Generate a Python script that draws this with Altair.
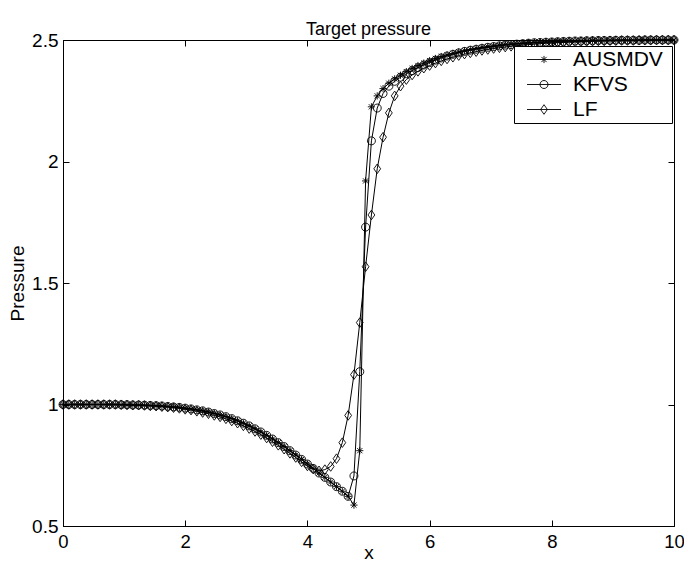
import altair as alt
import pandas as pd

# ---------------- data ----------------
series_names = ["AUSMDV", "KFVS", "LF"]
x_ticks = [0, 2, 4, 6, 8, 10]
y_ticks = [0.5, 1, 1.5, 2, 2.5]

# 106 grid nodes from 0 to 10
x_grid = [round(i * 10 / 105, 4) for i in range(106)]

# upstream part shared by AUSMDV and KFVS (nodes 0..49)
upstream = [
    1.000, 1.000, 1.000, 1.000, 1.000, 1.000, 1.000, 1.000, 1.000, 1.000,
    0.999, 0.999, 0.998, 0.998, 0.997, 0.996, 0.995, 0.994, 0.992, 0.990,
    0.988, 0.985, 0.982, 0.978, 0.974, 0.969, 0.963, 0.957, 0.950, 0.942,
    0.933, 0.923, 0.912, 0.900, 0.887, 0.873, 0.858, 0.843, 0.827, 0.810,
    0.792, 0.774, 0.755, 0.737, 0.718, 0.700, 0.681, 0.662, 0.643, 0.622,
]

# nodes 50..105
ausmdv_tail = [
    0.586, 0.810, 1.920, 2.225, 2.270, 2.300, 2.322, 2.340, 2.355, 2.370,
    2.383, 2.395, 2.405, 2.415, 2.424, 2.432, 2.439, 2.445, 2.451, 2.456,
    2.461, 2.465, 2.469, 2.472, 2.475, 2.478, 2.481, 2.483, 2.485, 2.487,
    2.489, 2.490, 2.491, 2.492, 2.493, 2.494, 2.495, 2.496, 2.496, 2.497,
    2.497, 2.498, 2.498, 2.498, 2.499, 2.499, 2.499, 2.499, 2.499, 2.500,
    2.500, 2.500, 2.500, 2.500, 2.500, 2.500,
]

kfvs_tail = [
    0.706, 1.135, 1.730, 2.085, 2.220, 2.280, 2.310, 2.330, 2.347, 2.361,
    2.374, 2.386, 2.397, 2.407, 2.417, 2.426, 2.434, 2.441, 2.447, 2.453,
    2.458, 2.462, 2.466, 2.470, 2.473, 2.476, 2.479, 2.481, 2.483, 2.485,
    2.487, 2.489, 2.490, 2.491, 2.492, 2.493, 2.494, 2.495, 2.496, 2.496,
    2.497, 2.497, 2.498, 2.498, 2.498, 2.499, 2.499, 2.499, 2.499, 2.499,
    2.500, 2.500, 2.500, 2.500, 2.500, 2.500,
]

lf = [
    1.000, 1.000, 1.000, 1.000, 1.000, 1.000, 1.000, 1.000, 1.000, 1.000,
    0.999, 0.998, 0.997, 0.997, 0.996, 0.994, 0.993, 0.991, 0.989, 0.987,
    0.984, 0.980, 0.977, 0.972, 0.967, 0.962, 0.955, 0.949, 0.941, 0.932,
    0.923, 0.912, 0.901, 0.889, 0.876, 0.862, 0.847, 0.832, 0.816, 0.799,
    0.782, 0.764, 0.747, 0.734, 0.727, 0.732, 0.745, 0.777, 0.843, 0.955,
    1.123, 1.337, 1.567, 1.780, 1.970, 2.100, 2.200, 2.270, 2.310, 2.337,
    2.356, 2.371, 2.384, 2.395, 2.405, 2.414, 2.422, 2.429, 2.436, 2.442,
    2.447, 2.452, 2.457, 2.461, 2.465, 2.468, 2.471, 2.474, 2.477, 2.479,
    2.481, 2.483, 2.485, 2.487, 2.488, 2.489, 2.490, 2.491, 2.492, 2.493,
    2.494, 2.495, 2.496, 2.496, 2.497, 2.497, 2.498, 2.498, 2.498, 2.499,
    2.499, 2.499, 2.500, 2.500, 2.500, 2.500,
]

ausmdv = upstream + ausmdv_tail
kfvs = upstream + kfvs_tail

rows = []
for name, vals in zip(series_names, [ausmdv, kfvs, lf]):
    for xv, yv in zip(x_grid, vals):
        rows.append({"x": xv, "p": yv, "series": name})
df = pd.DataFrame(rows)

# ---------------- styling ----------------
FONT = "Liberation Sans"
W, H = 611, 486

marker_paths = [
    "M-0.9,0L0.9,0M0,-0.9L0,0.9M-0.65,-0.65L0.65,0.65M-0.65,0.65L0.65,-0.65",
    "M1,0A1,1,0,1,1,-1,0A1,1,0,1,1,1,0Z",
    "M0,-1.2L0.85,0L0,1.2L-0.85,0Z",
]
legend_paths = ["M-4.25,0L4.25,0" + p for p in marker_paths]

xs = alt.Scale(domain=[0, 10], nice=False, zero=False)
ys = alt.Scale(domain=[0.5, 2.5], nice=False, zero=False)

tick_common = dict(labels=False, domain=False, ticks=True, tickSize=6,
                   tickColor="black", tickWidth=1, grid=False, title=None)

x_main = alt.Axis(orient="bottom", values=x_ticks, ticks=False, labelPadding=6,
                  labelFlush=False,
                  labelFont=FONT, labelFontSize=18.5, labelColor="black",
                  domain=True, domainColor="black", domainWidth=1, grid=False,
                  title="x", titleFont=FONT, titleFontSize=19,
                  titleFontWeight="normal", titleColor="black",
                  titleY=32, titleBaseline="alphabetic")
y_main = alt.Axis(orient="left", values=y_ticks, ticks=False, labelPadding=5,
                  labelFlush=False, format="~g",
                  labelFont=FONT, labelFontSize=19, labelColor="black",
                  domain=True, domainColor="black", domainWidth=1, grid=False,
                  title="Pressure", titleFont=FONT, titleFontSize=19,
                  titleFontWeight="normal", titleColor="black", titlePadding=4)

x_in_bottom = alt.Axis(orient="top", offset=-H, values=x_ticks, **tick_common)
x_in_top = alt.Axis(orient="bottom", offset=-H, values=x_ticks, **tick_common)
y_in_left = alt.Axis(orient="right", offset=-W, values=y_ticks, **tick_common)
y_in_right = alt.Axis(orient="left", offset=-W, values=y_ticks, **tick_common)

base = alt.Chart(df)

lines = base.mark_line(color="black", strokeWidth=1).encode(
    x=alt.X("x:Q", scale=xs, axis=x_main),
    y=alt.Y("p:Q", scale=ys, axis=y_main),
    detail="series:N",
)

points = base.mark_point(filled=False, color="black", strokeWidth=0.9,
                         size=64, opacity=1).encode(
    x=alt.X("x:Q", scale=xs, axis=x_in_bottom),
    y=alt.Y("p:Q", scale=ys, axis=y_in_left),
    shape=alt.Shape("series:N",
                    scale=alt.Scale(domain=series_names, range=marker_paths),
                    legend=None),
)

legend_layer = base.mark_point(filled=False, color="black", strokeWidth=0.9,
                               size=64, opacity=0).encode(
    x=alt.X("x:Q", scale=xs, axis=x_in_top),
    y=alt.Y("p:Q", scale=ys, axis=y_in_right),
    shape=alt.Shape(
        "series:N",
        scale=alt.Scale(domain=series_names, range=legend_paths),
        legend=alt.Legend(
            title=None, orient="none", legendX=451, legendY=6,
            direction="vertical", strokeColor="black", fillColor="white",
            padding=3, cornerRadius=0,
            labelFont=FONT, labelFontSize=21, labelColor="black",
            labelExpr="datum.label + '\u00a0\u200b'",
            symbolSize=64, symbolOffset=16.5, labelOffset=18.5,
            symbolStrokeColor="black", symbolStrokeWidth=0.9,
            symbolFillColor="transparent", symbolOpacity=1,
            rowPadding=3,
        ),
    ),
)

chart = alt.layer(lines, points, legend_layer).resolve_scale(
    shape="independent"
).resolve_axis(
    x="independent", y="independent"
).properties(
    width=W, height=H,
    title=alt.TitleParams("Target pressure", font=FONT, fontSize=18,
                          fontWeight="normal", color="black", offset=4,
                          dy=12, anchor="middle"),
    padding={"left": 55, "top": 32, "right": 10, "bottom": 37},
    autosize=alt.AutoSizeParams(type="none"),
    background="white",
).configure_view(stroke="black", strokeWidth=1)

chart.save("out.html", embed_options={"renderer": "svg", "actions": False})
